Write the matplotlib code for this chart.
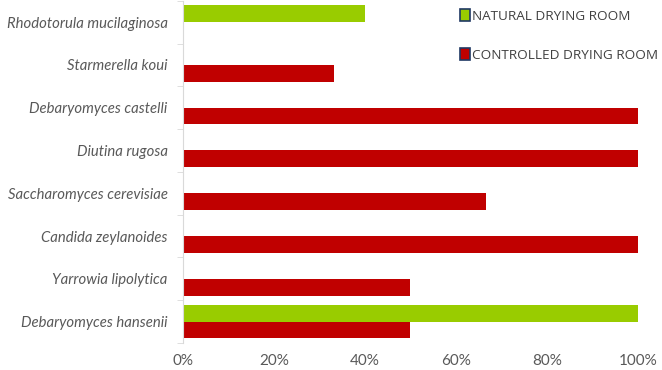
import numpy as np
import matplotlib.pyplot as plt
from matplotlib.patches import Patch
from matplotlib.ticker import PercentFormatter

# categories listed bottom to top
species = ['Debaryomyces hansenii', 'Yarrowia lipolytica', 'Candida zeylanoides',
           'Saccharomyces cerevisiae', 'Diutina rugosa', 'Debaryomyces castelli',
           'Starmerella koui', 'Rhodotorula mucilaginosa']
natural = [100, 0, 0, 0, 0, 0, 0, 40]
controlled = [50, 50, 100, 66.7, 100, 100, 33.3, 0]
x_ticks = [0, 20, 40, 60, 80, 100]

GREEN = '#99CC00'
RED = '#C00000'
GREY = '#595959'

plt.rcParams['font.family'] = ['Lato', 'DejaVu Sans']

fig = plt.figure(figsize=(6.62, 3.70), dpi=100)
ax = fig.add_axes([0.2764, 0.073, 0.6873, 0.925])

y = np.arange(len(species))
h = 0.39
ax.barh(y, natural, height=h, align='edge', color=GREEN)
ax.barh(y - h, controlled, height=h, align='edge', color=RED)

ax.set_xlim(0, 100)
ax.set_ylim(-0.5, len(species) - 0.5)
ax.set_xticks(x_ticks)
ax.xaxis.set_major_formatter(PercentFormatter(decimals=0))
ax.tick_params(axis='x', length=0, labelsize=11, labelcolor=GREY, pad=8)

ax.set_yticks(y)
ax.set_yticklabels(species, style='italic', fontsize=10.7, color=GREY)
ax.tick_params(axis='y', which='major', length=0, pad=11)
ax.set_yticks(np.arange(len(species) + 1) - 0.5, minor=True)
ax.tick_params(axis='y', which='minor', length=4, color='#D9D9D9', direction='out')

for s in ['top', 'right', 'bottom']:
    ax.spines[s].set_visible(False)
ax.spines['left'].set_color('#D9D9D9')

handles = [Patch(facecolor=GREEN, edgecolor='#1F3864', linewidth=1.2),
           Patch(facecolor=RED, edgecolor='#1F3864', linewidth=1.2)]
fig.legend(handles, ['NATURAL DRYING ROOM', 'CONTROLLED DRYING ROOM'],
           loc='upper left', bbox_to_anchor=(0.686, 0.99), frameon=False,
           prop={'family': 'Open Sans', 'size': 9.7}, labelcolor='#404040',
           handlelength=0.75, handleheight=0.95,
           handletextpad=0.2, labelspacing=1.9, borderaxespad=0)

fig.savefig('out.png', dpi=100)
